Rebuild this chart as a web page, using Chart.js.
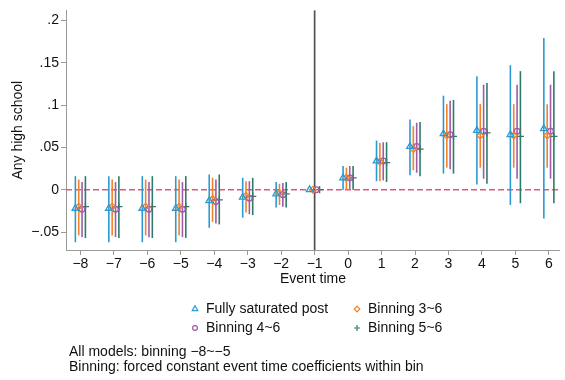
<!DOCTYPE html>
<html><head><meta charset="utf-8">
<script src="https://cdn.jsdelivr.net/npm/chart.js@4/dist/chart.umd.min.js"></script>
<style>html,body{margin:0;padding:0;background:#fff;}#wrap{width:565px;height:380px;position:relative;}</style>
</head><body><div id="wrap"><canvas id="c" width="565" height="380"></canvas></div>
<script>
// ---------- data ----------
const eventTimes = [-8,-7,-6,-5,-4,-3,-2,-1,0,1,2,3,4,5,6];
const xTickLabels = ["\u22128","\u22127","\u22126","\u22125","\u22124","\u22123","\u22122","\u22121","0","1","2","3","4","5","6"];
const yTickValues = [-0.05,0,0.05,0.1,0.15,0.2];
const yTickLabels = ["\u2212.05","0",".05",".1",".15",".2"];
const seriesNames = ["Fully saturated post","Binning 3~6","Binning 4~6","Binning 5~6"];

const coefFull = [-0.022,-0.022,-0.022,-0.022,-0.013,-0.009,-0.005,0,0.014,0.034,0.051,0.066,0.070,0.065,0.072];
const loFull   = [-0.062,-0.062,-0.062,-0.062,-0.045,-0.033,-0.021,null,0.000,0.010,0.017,0.019,0.006,-0.018,-0.034];
const hiFull   = [0.016,0.016,0.016,0.016,0.018,0.014,0.009,null,0.028,0.058,0.083,0.111,0.134,0.147,0.179];

const coefB36 = [-0.020,-0.020,-0.020,-0.020,-0.011,-0.007,-0.004,0,0.014,0.033,0.048,0.064,0.064,0.064,0.064];
const loB36   = [-0.054,-0.054,-0.054,-0.054,-0.038,-0.027,-0.018,null,0.000,0.010,0.023,0.026,0.026,0.026,0.026];
const hiB36   = [0.012,0.012,0.012,0.012,0.014,0.010,0.007,null,0.026,0.055,0.075,0.101,0.101,0.101,0.101];

const coefB46 = [-0.023,-0.023,-0.023,-0.023,-0.014,-0.010,-0.006,0,0.014,0.034,0.051,0.065,0.069,0.069,0.069];
const loB46   = [-0.056,-0.056,-0.056,-0.056,-0.040,-0.029,-0.020,null,0.001,0.011,0.020,0.024,0.013,0.013,0.013];
const hiB46   = [0.009,0.009,0.009,0.009,0.012,0.010,0.008,null,0.028,0.056,0.079,0.105,0.124,0.124,0.124];

const coefB56 = [-0.020,-0.020,-0.020,-0.020,-0.012,-0.008,-0.005,0,0.014,0.032,0.048,0.063,0.067,0.063,0.063];
const loB56   = [-0.057,-0.057,-0.057,-0.057,-0.041,-0.030,-0.021,null,0.000,0.009,0.016,0.019,0.007,-0.016,-0.016];
const hiB56   = [0.016,0.016,0.016,0.016,0.018,0.014,0.009,null,0.028,0.056,0.080,0.106,0.126,0.140,0.140];

const noteLines = ["All models: binning \u22128~\u22125","Binning: forced constant event time coefficients within bin"];
const refX = -1;
const refY = 0;

// ---------- styles ----------
const coefs = [coefFull, coefB36, coefB46, coefB56];
const los = [loFull, loB36, loB46, loB56];
const his = [hiFull, hiB36, hiB46, hiB56];
const colors = ["#2a9bd2","#f0822a","#a15aa7","#2f7a6d"];
const pointStyles = ["triangle","rectRot","circle","cross"];
const radii = [3.8,3.3,2.8,3.6];
const dodge = [-0.15,-0.05,0.05,0.15];
const FONT = "'Liberation Sans', Arial, Helvetica, sans-serif";

Chart.defaults.font.family = FONT;
Chart.defaults.font.size = 14;
Chart.defaults.color = "#111";

const datasets = seriesNames.map((name, i) => ({
  label: name,
  data: eventTimes.map((t, j) => ({x: t + dodge[i], y: coefs[i][j]})),
  pointStyle: pointStyles[i],
  pointRadius: radii[i],
  pointHoverRadius: radii[i],
  borderColor: colors[i],
  backgroundColor: "rgba(0,0,0,0)",
  pointBorderWidth: 1.3,
  showLine: false
}));

const decor = {
  id: "decor",
  beforeDatasetsDraw(chart) {
    const {ctx, chartArea: a, scales: {x, y}} = chart;
    ctx.save();
    const py = y.getPixelForValue(refY);
    ctx.strokeStyle = "#dc5a80";
    ctx.lineWidth = 1.5;
    ctx.setLineDash([6,3]);
    ctx.beginPath(); ctx.moveTo(a.left, py); ctx.lineTo(a.right, py); ctx.stroke();
    ctx.setLineDash([]);
    const px = x.getPixelForValue(refX);
    ctx.strokeStyle = "#505050";
    ctx.lineWidth = 1.7;
    ctx.beginPath(); ctx.moveTo(px, a.top); ctx.lineTo(px, a.bottom); ctx.stroke();
    ctx.lineWidth = 1.6;
    for (let i = 0; i < coefs.length; i++) {
      ctx.strokeStyle = colors[i];
      for (let j = 0; j < eventTimes.length; j++) {
        if (los[i][j] === null) continue;
        const bx = x.getPixelForValue(eventTimes[j] + dodge[i]);
        ctx.beginPath();
        ctx.moveTo(bx, y.getPixelForValue(los[i][j]));
        ctx.lineTo(bx, y.getPixelForValue(his[i][j]));
        ctx.stroke();
      }
    }
    ctx.restore();
  },
  afterDraw(chart) {
    const ctx = chart.ctx;
    ctx.save();
    ctx.font = "14px " + FONT;
    ctx.textBaseline = "middle";
    ctx.textAlign = "left";
    const legPos = [[195,309],[357,309],[195,328],[357,328]];
    const legRad = [3.2,2.8,2.4,3.0];
    for (let i = 0; i < seriesNames.length; i++) {
      const [mx, my] = legPos[i];
      ctx.save();
      ctx.strokeStyle = colors[i];
      ctx.fillStyle = "rgba(0,0,0,0)";
      ctx.lineWidth = 1.2;
      Chart.helpers.drawPoint(ctx, {pointStyle: pointStyles[i], radius: legRad[i], borderWidth: 1.2, rotation: 0}, mx, my);
      ctx.restore();
      ctx.fillStyle = "#111";
      ctx.fillText(seriesNames[i], mx + 11, my + 0.5);
    }
    ctx.fillStyle = "#111";
    noteLines.forEach((t, k) => ctx.fillText(t, 69, 352 + k * 15));
    ctx.restore();
  }
};

new Chart(document.getElementById("c"), {
  type: "scatter",
  data: {datasets},
  options: {
    responsive: false,
    animation: false,
    devicePixelRatio: 1,
    layout: {padding: {left: 0, top: 5, right: 0, bottom: 90}},
    plugins: {legend: {display: false}, tooltip: {enabled: false}},
    scales: {
      x: {
        type: "linear",
        min: -8.43,
        max: 6.33,
        afterBuildTicks: s => { s.ticks = eventTimes.map(v => ({value: v})); },
        afterFit: s => { s.height = 40; },
        ticks: {autoSkip: false, maxRotation: 0, padding: 1, color: "#111",
          callback: v => xTickLabels[eventTimes.indexOf(v)]},
        grid: {display: true, drawOnChartArea: false, drawTicks: true, tickLength: 5, color: "#999"},
        border: {display: true, color: "#999", width: 1},
        title: {display: true, text: "Event time", color: "#111", padding: {top: 0, bottom: 2.6}}
      },
      y: {
        type: "linear",
        min: -0.0712,
        max: 0.2117,
        afterBuildTicks: s => { s.ticks = yTickValues.map(v => ({value: v})); },
        afterFit: s => { s.width = 66; },
        ticks: {padding: 2, color: "#111",
          callback: v => yTickLabels[yTickValues.indexOf(v)]},
        grid: {display: true, drawOnChartArea: false, drawTicks: true, tickLength: 5, color: "#999"},
        border: {display: true, color: "#999", width: 1},
        title: {display: true, text: "Any high school", color: "#111", padding: {top: 9.6, bottom: 0}}
      }
    }
  },
  plugins: [decor]
});
</script></body></html>
